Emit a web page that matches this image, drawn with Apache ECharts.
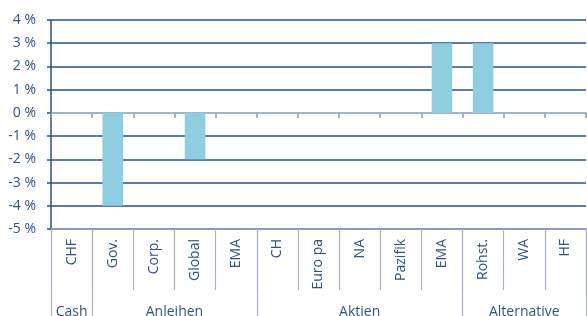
<!DOCTYPE html>
<html>
<head>
<meta charset="utf-8">
<script src="https://cdn.jsdelivr.net/npm/echarts@6/dist/echarts.min.js"></script>
<style>
  html, body { margin: 0; padding: 0; background: #fff; }
  #chart { width: 587px; height: 316px; }
</style>
</head>
<body>
<div id="chart"></div>
<script>
// Kategorien und Abweichungen (in %)
var categories = ['CHF', 'Gov.', 'Corp.', 'Global', 'EMA', 'CH', 'Euro pa', 'NA', 'Pazifik', 'EMA', 'Rohst.', 'WA', 'HF'];
var values = [0, -4, 0, -2, 0, 0, 0, 0, 0, 3, 3, 0, 0];
var groups = ['Cash', 'Anleihen', 'Aktien', 'Alternative'];
var groupSizes = [1, 4, 5, 3];

var textColor = '#2f5487';
var gridColor = '#24508a';
var axisGray = '#8b9bb8';
var sepColor = '#aeb1c6';
var fontFamily = '"Open Sans", sans-serif';

// Halbschritt-Achse fuer Gruppenbeschriftung und Trennlinien
var halfSteps = [];
var groupLabelIdx = {};
var groupTickIdx = { 0: true };
var pos = 0;
for (var i = 0; i < categories.length * 2 + 1; i++) halfSteps.push('');
groups.forEach(function (g, k) {
    var mid = pos * 2 + groupSizes[k];
    halfSteps[mid] = g;
    groupLabelIdx[mid] = true;
    pos += groupSizes[k];
    groupTickIdx[pos * 2] = true;
});

var dom = document.getElementById('chart');
var myChart = echarts.init(dom);
var option = {
    animation: false,
    grid: { left: 51, right: 1, top: 20, bottom: 87, outerBoundsMode: 'none' },
    xAxis: [
        {
            // Nulllinie
            type: 'category',
            data: categories,
            axisLine: { onZero: true, lineStyle: { color: axisGray, width: 1.5 } },
            axisTick: { show: true, interval: 0, length: 5, lineStyle: { color: axisGray, width: 1.5 } },
            axisLabel: { show: false },
            splitLine: { show: false }
        },
        {
            type: 'category',
            data: categories,
            position: 'bottom',
            axisLine: { onZero: false, lineStyle: { color: axisGray, width: 2 } },
            axisTick: { show: true, interval: 0, length: 61, lineStyle: { color: sepColor, width: 1.2 } },
            axisLabel: {
                interval: 0,
                rotate: 90,
                margin: 10,
                color: textColor,
                fontSize: 14,
                fontFamily: fontFamily
            },
            splitLine: { show: false }
        },
        {
            type: 'category',
            data: halfSteps,
            position: 'bottom',
            boundaryGap: false,
            axisLine: { show: false, onZero: false },
            axisTick: {
                show: true,
                length: 90,
                interval: function (idx) { return !!groupTickIdx[idx]; },
                lineStyle: { color: sepColor, width: 1.2 }
            },
            axisLabel: {
                interval: function (idx) { return !!groupLabelIdx[idx]; },
                margin: 76,
                color: textColor,
                fontSize: 14,
                fontFamily: fontFamily
            },
            splitLine: { show: false }
        }
    ],
    yAxis: {
        type: 'value',
        min: -5,
        max: 4,
        interval: 1,
        axisLine: { show: true, lineStyle: { color: gridColor, width: 1.5 } },
        axisTick: { show: true, length: 4, lineStyle: { color: gridColor, width: 1.5 } },
        axisLabel: {
            formatter: '{value} %',
            margin: 15,
            color: textColor,
            fontSize: 14,
            fontFamily: fontFamily
        },
        splitLine: {
            show: true,
            lineStyle: {
                width: 1.5,
                color: ['rgba(0,0,0,0)', gridColor, gridColor, gridColor, gridColor,
                        'rgba(0,0,0,0)', gridColor, gridColor, gridColor, gridColor]
            }
        }
    },
    series: [
        {
            type: 'bar',
            xAxisIndex: 0,
            data: values,
            barWidth: '50%',
            itemStyle: { color: '#8fcde0' }
        }
    ]
};
myChart.setOption(option);
</script>
</body>
</html>
